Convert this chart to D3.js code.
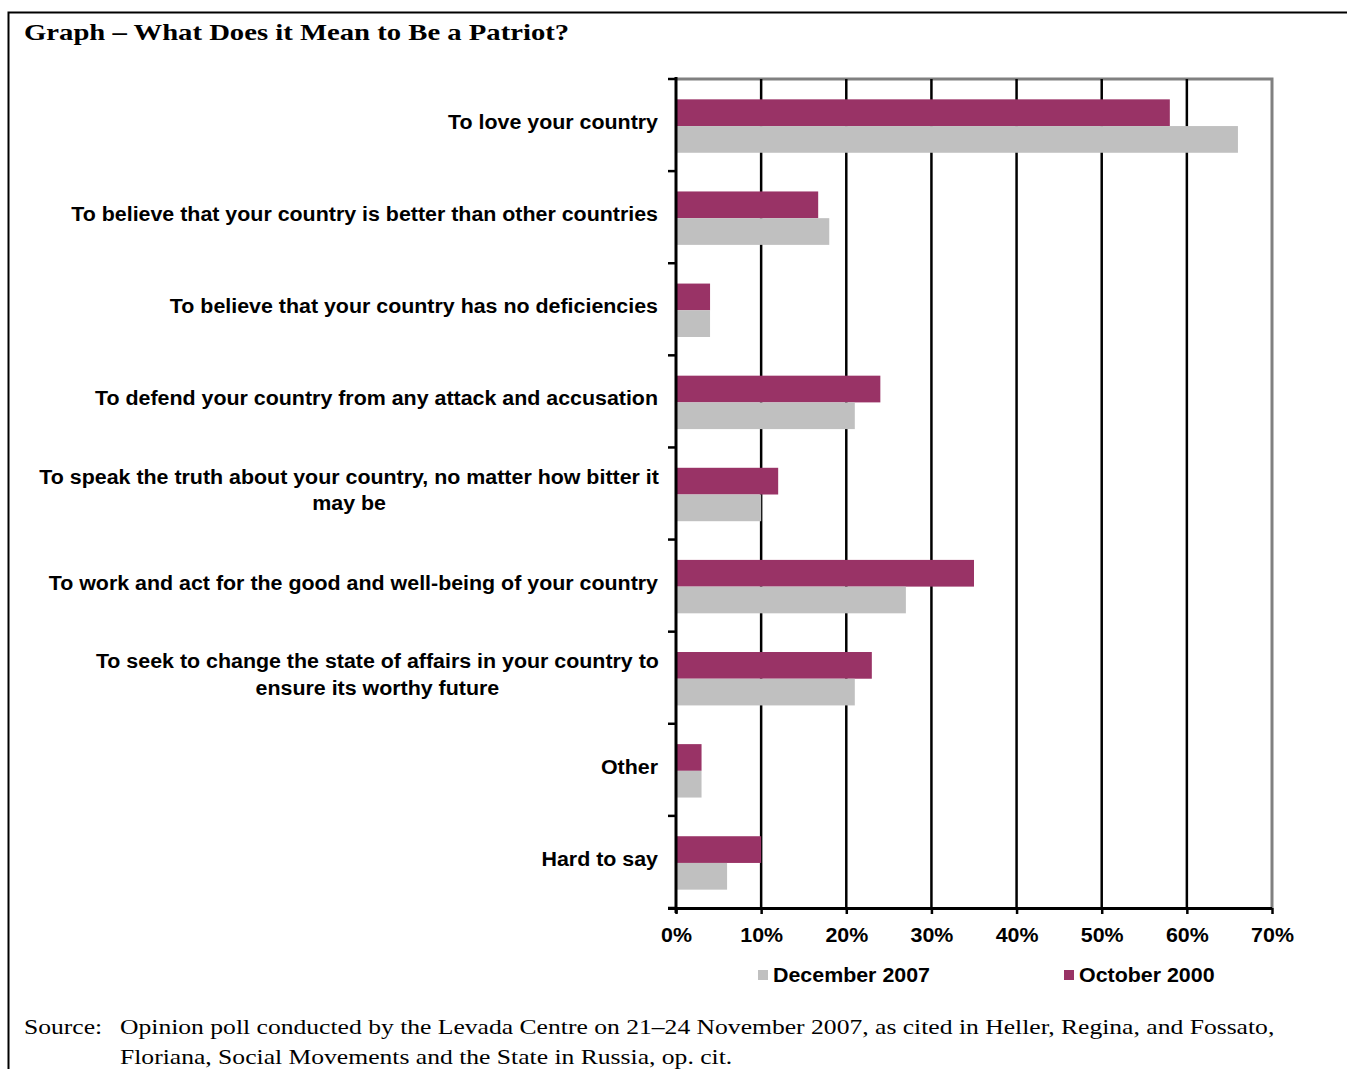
<!DOCTYPE html>
<html>
<head>
<meta charset="utf-8">
<script src="https://cdn.jsdelivr.net/npm/d3@7"></script>
<style>
  html, body { margin: 0; padding: 0; background: #fff; }
  svg { display: block; }
</style>
</head>
<body>
<svg id="chart" width="1347" height="1069"></svg>
<script>
// ---- data ----
const categories = [
  ["To love your country"],
  ["To believe that your country is better than other countries"],
  ["To believe that your country has no deficiencies"],
  ["To defend your country from any attack and accusation"],
  ["To speak the truth about your country, no matter how bitter it", "may be"],
  ["To work and act for the good and well-being of your country"],
  ["To seek to change the state of affairs in your country to", "ensure its worthy future"],
  ["Other"],
  ["Hard to say"]
];
const october2000 = [58, 16.7, 4, 24, 12, 35, 23, 3, 10];
const december2007 = [66, 18, 4, 21, 10, 27, 21, 3, 6];
const seriesNames = ["December 2007", "October 2000"];
const xTicks = [0, 10, 20, 30, 40, 50, 60, 70];
const titleText = "Graph \u2013 What Does it Mean to Be a Patriot?";
const sourceLines = [
  "Opinion poll conducted by the Levada Centre on 21\u201324 November 2007, as cited in Heller, Regina, and Fossato,",
  "Floriana, Social Movements and the State in Russia, op. cit."
];

(function () {
// ---- layout ----
const svg = d3.select("#chart");
const pL = 676, pR = 1272, pT = 79, pB = 908;
const purple = "#993366", gray = "#C0C0C0";
const sans = "'Liberation Sans', Arial, sans-serif";
const serif = "'Liberation Serif', 'Times New Roman', serif";
const SX = 1.07;       // horizontal stretch for sans text
const SXS = 1.22;      // horizontal stretch for serif text
const FS = 20;

const x = d3.scaleLinear().domain([0, 70]).range([pL, pR]);
const y = d3.scaleBand().domain(d3.range(categories.length)).range([pT + 1, pB + 1]).paddingInner(0.42).paddingOuter(0.21);
const sub = d3.scaleBand().domain([0, 1]).range([0, y.bandwidth()]);

function place(sel, ax, ay, s) {
  return sel.attr("x", 0).attr("y", 0).attr("transform", `translate(${ax},${ay}) scale(${s},1)`);
}

// outer frame
svg.append("path").attr("d", `M8.5,1069 V12.5 H1347`).attr("fill", "none").attr("stroke", "#000").attr("stroke-width", 2);

// title
place(svg.append("text"), 24, 40, 1.196).attr("font-family", serif).attr("font-weight", "bold")
  .attr("font-size", 24).attr("fill", "#000").text(titleText);

// plot border (gray top and right)
svg.append("path").attr("d", `M${pL},${pT} H${pR} V${pB}`).attr("fill", "none").attr("stroke", "#808080").attr("stroke-width", 3);

// gridlines
svg.append("g").selectAll("line").data(xTicks.filter(d => d > 0 && d < 70)).join("line")
  .attr("x1", d => x(d)).attr("x2", d => x(d)).attr("y1", pT).attr("y2", pB)
  .attr("stroke", "#000").attr("stroke-width", 2.5);

// bars
const g = svg.append("g");
g.selectAll("rect.oct").data(october2000).join("rect").attr("class", "oct")
  .attr("x", x(0)).attr("y", (d, i) => y(i) + sub(0)).attr("width", d => x(d) - x(0)).attr("height", sub.bandwidth())
  .attr("fill", purple);
g.selectAll("rect.dec").data(december2007).join("rect").attr("class", "dec")
  .attr("x", x(0)).attr("y", (d, i) => y(i) + sub(1)).attr("width", d => x(d) - x(0)).attr("height", sub.bandwidth())
  .attr("fill", gray);

// x axis
const xAxis = d3.axisBottom(x).tickValues(xTicks).tickFormat(d => d + "%").tickSize(6).tickSizeOuter(0);
const xa = svg.append("g").attr("transform", `translate(0,${pB})`).call(xAxis);
xa.select(".domain").attr("stroke", "#000").attr("stroke-width", 3).attr("d", `M${pL - 8},0.5 H${pR}`);
xa.selectAll(".tick line").attr("stroke", "#000").attr("stroke-width", 2.5);
xa.selectAll(".tick text").attr("font-family", sans).attr("font-weight", "bold").attr("font-size", FS)
  .attr("fill", "#000").attr("y", 0).attr("dy", "0.71em").attr("transform", `translate(0,20) scale(${SX},1)`);

// y axis line + ticks at band boundaries
svg.append("line").attr("x1", pL).attr("x2", pL).attr("y1", pT - 2).attr("y2", pB + 5)
  .attr("stroke", "#000").attr("stroke-width", 3);
const bounds = d3.range(categories.length + 1).map(i => pT + i * (pB - pT) / categories.length);
svg.append("g").selectAll("line").data(bounds).join("line")
  .attr("x1", pL - 8).attr("x2", pL).attr("y1", d => d).attr("y2", d => d)
  .attr("stroke", "#000").attr("stroke-width", 2.5);

// category labels
const labelRight = 658;
categories.forEach((lines, i) => {
  const cy = y(i) + y.bandwidth() / 2;
  const lh = 27;
  const t = svg.append("text").attr("font-family", sans).attr("font-weight", "bold").attr("font-size", FS).attr("fill", "#000");
  if (lines.length === 1) {
    place(t, labelRight, cy + 3, SX).attr("text-anchor", "end").text(lines[0]);
  } else {
    const tmp = svg.append("text").attr("font-family", sans).attr("font-weight", "bold").attr("font-size", FS).text(lines[0]);
    const w = tmp.node().getComputedTextLength() * SX;
    tmp.remove();
    const cx = labelRight - w / 2 + 1;
    place(t, cx, cy - 11, SX);
    lines.forEach((ln, j) => {
      t.append("tspan").attr("x", 0).attr("y", j * lh).attr("text-anchor", "middle").text(ln);
    });
  }
});

// legend
const legend = [
  { name: seriesNames[0], color: gray, x: 758 },
  { name: seriesNames[1], color: purple, x: 1064 }
];
const lg = svg.append("g");
legend.forEach(l => {
  lg.append("rect").attr("x", l.x).attr("y", 970).attr("width", 10).attr("height", 10).attr("fill", l.color);
  place(lg.append("text"), l.x + 15, 982, SX).attr("font-family", sans).attr("font-weight", "bold")
    .attr("font-size", FS).attr("fill", "#000").text(l.name);
});

// source
place(svg.append("text"), 24, 1034, SXS).attr("font-family", serif).attr("font-size", 21).attr("fill", "#000").text("Source:");
sourceLines.forEach((s, i) => {
  place(svg.append("text"), 120, 1034 + i * 30, SXS).attr("font-family", serif).attr("font-size", 21)
    .attr("fill", "#000").text(s);
});
})();
</script>
</body>
</html>
